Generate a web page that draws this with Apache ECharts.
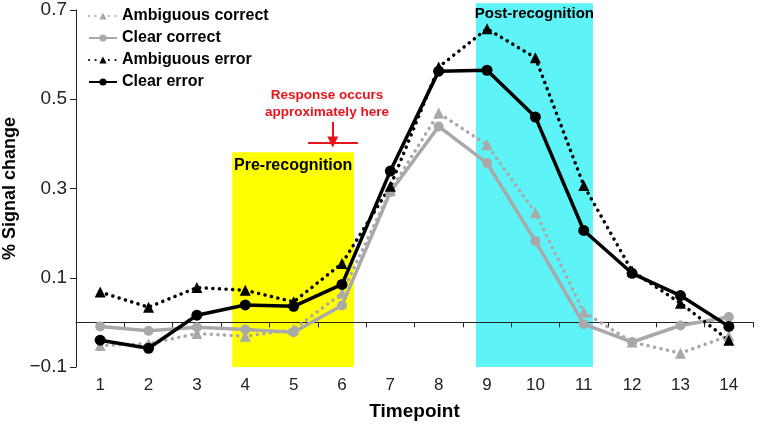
<!DOCTYPE html>
<html>
<head>
<meta charset="utf-8">
<script src="https://cdn.jsdelivr.net/npm/echarts@6/dist/echarts.min.js"></script>
<style>
  html, body { margin: 0; padding: 0; background: #fff; }
  #chart { width: 760px; height: 426px; }
</style>
</head>
<body>
<div id="chart"></div>
<script>
// timepoints on the x axis
var timepoints = ['1','2','3','4','5','6','7','8','9','10','11','12','13','14'];
// % signal change
var ambiguousCorrect = [-0.052, -0.048, -0.025, -0.031, -0.016, 0.065, 0.295, 0.469, 0.398, 0.246, 0.023, -0.044, -0.069, -0.030];
var clearCorrect     = [-0.009, -0.019, -0.011, -0.016, -0.022, 0.038, 0.292, 0.439, 0.357, 0.182, -0.004, -0.044, -0.007, 0.012];
var ambiguousError   = [0.068, 0.034, 0.078, 0.072, 0.046, 0.132, 0.305, 0.572, 0.658, 0.593, 0.307, 0.115, 0.043, -0.040];
var clearError       = [-0.040, -0.058, 0.016, 0.039, 0.036, 0.085, 0.339, 0.563, 0.565, 0.460, 0.206, 0.110, 0.060, -0.009];
// shaded windows: [x from, x to, y top] in timepoint units
var windowNames = ['Pre-recognition', 'Post-recognition'];
var windowSpans = [[3.73, 6.25, 0.381], [8.77, 11.19, 0.715]];
var windowColors = ['#ffff00', '#5ef4f7'];

var GRAY = '#a9a9a9';
var FONT = 'Liberation Sans, Arial, sans-serif';

function pairs(arr) {
    return arr.map(function (v, i) { return [i + 1, v]; });
}

var myChart = echarts.init(document.getElementById('chart'));

function lineSeries(name, data, color, dotted, symbol, size) {
    return {
        name: name,
        type: 'line',
        xAxisIndex: 0,
        data: pairs(data),
        symbol: symbol,
        symbolSize: size,
        z: 10,
        lineStyle: {
            color: color,
            width: 3.5,
            type: dotted ? [0.1, 6.5] : 'solid',
            cap: dotted ? 'round' : 'butt'
        },
        itemStyle: { color: color },
        emphasis: { disabled: true }
    };
}

// shaded windows drawn through the axes
function renderWindow(params, api) {
    var i = params.dataIndex;
    var p0 = api.coord([api.value(0), -0.1]);
    var p1 = api.coord([api.value(1), api.value(2)]);
    var fontSize = i === 0 ? 16 : 15;
    return {
        type: 'group',
        children: [
            {
                type: 'rect',
                shape: { x: p0[0], y: p1[1], width: p1[0] - p0[0], height: p0[1] - p1[1] },
                style: { fill: windowColors[i] }
            },
            {
                type: 'text',
                x: (p0[0] + p1[0]) / 2,
                y: p1[1] + (i === 0 ? 5 : 3),
                style: {
                    text: windowNames[i],
                    font: 'bold ' + fontSize + 'px ' + FONT,
                    fill: '#000',
                    align: 'center',
                    verticalAlign: 'top'
                }
            }
        ]
    };
}

var option = {
    animation: false,
    textStyle: { fontFamily: FONT },
    grid: { left: 76, right: 7, top: 10, bottom: 59, outerBoundsMode: 'none' },
    legend: {
        left: 88,
        top: 8,
        padding: 0,
        orient: 'vertical',
        itemWidth: 28,
        itemHeight: 9,
        itemGap: 6,
        textStyle: { fontSize: 16, fontWeight: 'bold', color: '#000', fontFamily: FONT },
        data: ['Ambiguous correct', 'Clear correct', 'Ambiguous error', 'Clear error']
    },
    xAxis: [
        {
            type: 'value',
            min: 0.5,
            max: 14.5,
            interval: 1,
            z: 5,
            axisLine: { onZero: true, lineStyle: { color: '#222', width: 1 } },
            axisTick: { show: true, inside: false, length: 5, lineStyle: { color: '#222' } },
            axisLabel: { show: false },
            splitLine: { show: false }
        },
        {
            type: 'category',
            position: 'bottom',
            data: timepoints,
            boundaryGap: true,
            axisLine: { show: false, onZero: false },
            axisTick: { show: false },
            axisLabel: { fontSize: 17, color: '#222', margin: 10, fontFamily: FONT },
            name: 'Timepoint',
            nameLocation: 'middle',
            nameGap: 35,
            nameTextStyle: { fontSize: 19, fontWeight: 'bold', color: '#000', fontFamily: FONT }
        }
    ],
    yAxis: {
        type: 'value',
        min: -0.1,
        max: 0.7,
        interval: 0.2,
        axisLine: { show: true, lineStyle: { color: '#222', width: 1 } },
        axisTick: { show: true, length: 6, lineStyle: { color: '#222' } },
        splitLine: { show: false },
        axisLabel: {
            fontSize: 19,
            color: '#222',
            margin: 9,
            fontFamily: FONT,
            formatter: function (v) { return v.toFixed(1).replace('-', '\u2212'); }
        },
        name: '% Signal change',
        nameLocation: 'middle',
        nameGap: 56,
        nameTextStyle: { fontSize: 18, fontWeight: 'bold', color: '#000', fontFamily: FONT }
    },
    graphic: [
        {
            type: 'text',
            x: 327,
            y: 87,
            style: {
                text: 'Response occurs\napproximately here',
                fill: '#e8141b',
                font: 'bold 13.5px ' + FONT,
                align: 'center',
                lineHeight: 17
            }
        }
    ],
    series: [
        {
            name: 'windows',
            type: 'custom',
            xAxisIndex: 0,
            clip: false,
            silent: true,
            z: 1,
            renderItem: renderWindow,
            data: windowSpans
        },
        {
            name: 'response',
            type: 'line',
            data: [],
            z: 2,
            markLine: {
                silent: true,
                symbol: 'none',
                label: { show: false },
                lineStyle: { color: '#e8141b', width: 2, type: 'solid' },
                data: [
                    [ { coord: [5.30, 0.402] }, { coord: [6.33, 0.402] } ],
                    [ { coord: [5.81, 0.449], symbol: 'none' }, { coord: [5.81, 0.404], symbol: 'triangle', symbolSize: [11, 11], symbolRotate: 180 } ]
                ]
            }
        },
        lineSeries('Ambiguous correct', ambiguousCorrect, GRAY, true, 'triangle', 11),
        lineSeries('Clear correct', clearCorrect, GRAY, false, 'circle', 10),
        lineSeries('Ambiguous error', ambiguousError, '#000', true, 'triangle', 11),
        lineSeries('Clear error', clearError, '#000', false, 'circle', 11)
    ]
};

myChart.setOption(option, true);
</script>
</body>
</html>
